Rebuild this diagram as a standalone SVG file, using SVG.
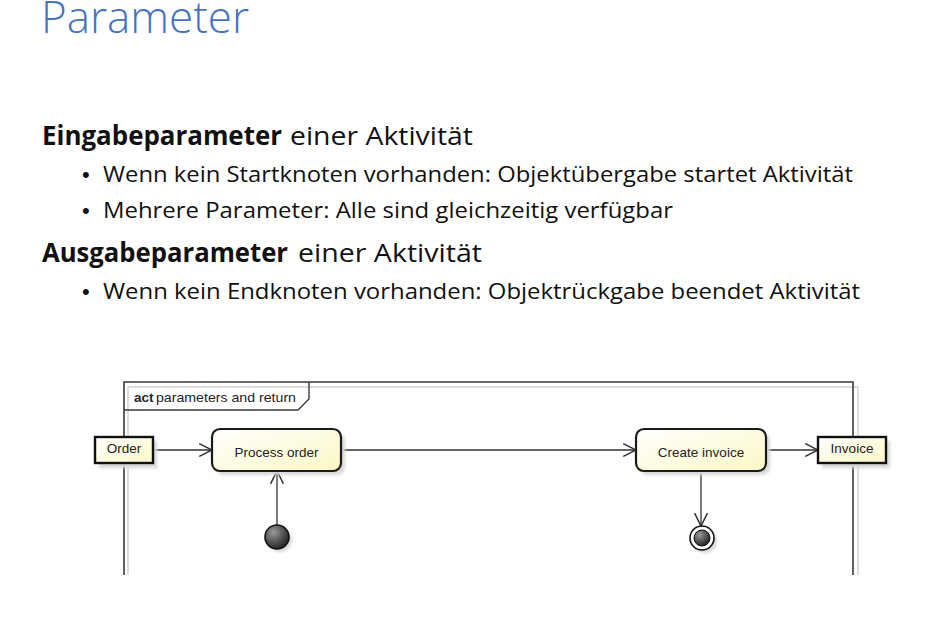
<svg xmlns="http://www.w3.org/2000/svg" width="939" height="632" viewBox="0 0 939 632">
<defs>
<style>
.title{font-family:"Open Sans","Noto Sans",sans-serif;font-size:44px;fill:#4472C4;font-weight:300}
.h{font-family:"Open Sans","Noto Sans",sans-serif;font-size:26px;fill:#111}
.hb{font-weight:bold}
.b{font-family:"Open Sans","Noto Sans",sans-serif;font-size:21px;fill:#111}
.dot{font-family:"Liberation Sans",Arial,sans-serif;font-size:22px;fill:#111}
.lbl{font-family:"Liberation Sans",Arial,sans-serif;font-size:13.5px;fill:#222}
.act{fill:url(#yel);stroke:#1a1a1a;stroke-width:2.2}
.pin{fill:url(#yel);stroke:#111;stroke-width:2.4}
.edge{fill:none;stroke:#333;stroke-width:1.3}
.shadow{fill:#d8d8d8;filter:url(#blur)}
</style>
<linearGradient id="yel" x1="0" y1="0" x2="1" y2="1">
<stop offset="0" stop-color="#ffffff"/>
<stop offset="1" stop-color="#fbf8c4"/>
</linearGradient>
<radialGradient id="dark" cx="0.35" cy="0.3" r="0.75">
<stop offset="0" stop-color="#999"/>
<stop offset="1" stop-color="#1e1e1e"/>
</radialGradient>
<filter id="blur" x="-20%" y="-20%" width="140%" height="140%">
<feGaussianBlur stdDeviation="1.5"/>
</filter>
<marker id="open" markerUnits="userSpaceOnUse" markerWidth="14" markerHeight="14" viewBox="0 0 12 12" refX="11" refY="6" orient="auto">
<path d="M0,0.5 L11,6 L0,11.5" fill="none" stroke="#333" stroke-width="1.3"/>
</marker>
</defs>
<rect width="939" height="632" fill="#fff"/>

<text class="title" x="41" y="33" textLength="208" lengthAdjust="spacingAndGlyphs">Parameter</text>

<text class="h hb" x="42" y="145" textLength="240" lengthAdjust="spacingAndGlyphs">Eingabeparameter</text>
<text class="h" x="290" y="145" textLength="183" lengthAdjust="spacingAndGlyphs">einer Aktivität</text>
<text class="dot" x="82" y="182">•</text>
<text class="b" x="103" y="182" textLength="750" lengthAdjust="spacingAndGlyphs">Wenn kein Startknoten vorhanden: Objektübergabe startet Aktivität</text>
<text class="dot" x="82" y="218">•</text>
<text class="b" x="103" y="218" textLength="570" lengthAdjust="spacingAndGlyphs">Mehrere Parameter: Alle sind gleichzeitig verfügbar</text>
<text class="h hb" x="42" y="262" textLength="246" lengthAdjust="spacingAndGlyphs">Ausgabeparameter</text>
<text class="h" x="298" y="262" textLength="184" lengthAdjust="spacingAndGlyphs">einer Aktivität</text>
<text class="dot" x="82" y="299">•</text>
<text class="b" x="103" y="299" textLength="757" lengthAdjust="spacingAndGlyphs">Wenn kein Endknoten vorhanden: Objektrückgabe beendet Aktivität</text>

<g id="frame">
<path d="M128,575 V387 H858 V575" fill="none" stroke="#d4d4d4" stroke-width="1.5"/>
<path d="M124,575 V382 H853 V575" fill="none" stroke="#3a3a3a" stroke-width="1.6"/>
<path d="M124,410 H298 L309,399 V382" fill="none" stroke="#3a3a3a" stroke-width="1.4"/>
<text class="lbl" x="134" y="402" font-size="13"><tspan font-weight="bold">act</tspan></text>
<text class="lbl" x="156" y="402" font-size="13" textLength="140" lengthAdjust="spacingAndGlyphs">parameters and return</text>
</g>

<g id="connectors">
<line class="edge" x1="153" y1="450" x2="212" y2="450" marker-end="url(#open)"/>
<line class="edge" x1="277" y1="525" x2="277" y2="471" marker-end="url(#open)"/>
<line class="edge" x1="341" y1="450" x2="636" y2="450" marker-end="url(#open)"/>
<line class="edge" x1="766" y1="450" x2="818" y2="450" marker-end="url(#open)"/>
<line class="edge" x1="701" y1="471" x2="701" y2="526" marker-end="url(#open)"/>
</g>

<g id="order">
<rect class="shadow" x="99" y="441" width="58" height="27"/>
<rect class="pin" x="95" y="437" width="58" height="26"/>
<text class="lbl" x="124" y="453" text-anchor="middle">Order</text>
</g>

<g id="process-order">
<rect class="shadow" x="216" y="433" width="129" height="42" rx="8"/>
<rect class="act" x="212" y="429" width="129" height="42" rx="8"/>
<text class="lbl" x="276.5" y="457" text-anchor="middle">Process order</text>
</g>

<g id="initial">
<circle cx="280" cy="540" r="12" fill="#d8d8d8" filter="url(#blur)"/>
<circle cx="277" cy="537" r="12" fill="url(#dark)" stroke="#111" stroke-width="1.6"/>
</g>

<g id="create-invoice">
<rect class="shadow" x="640" y="433" width="130" height="42" rx="8"/>
<rect class="act" x="636" y="429" width="130" height="42" rx="8"/>
<text class="lbl" x="701" y="457" text-anchor="middle">Create invoice</text>
</g>

<g id="final">
<circle cx="705" cy="541" r="12" fill="#d8d8d8" filter="url(#blur)"/>
<circle cx="702" cy="538" r="12" fill="#fff" stroke="#111" stroke-width="1.6"/>
<circle cx="702" cy="538" r="8" fill="url(#dark)" stroke="#111" stroke-width="1"/>
</g>

<g id="invoice">
<rect class="shadow" x="822" y="441" width="68" height="27"/>
<rect class="pin" x="818" y="437" width="68" height="26"/>
<text class="lbl" x="852" y="453" text-anchor="middle">Invoice</text>
</g>
</svg>
